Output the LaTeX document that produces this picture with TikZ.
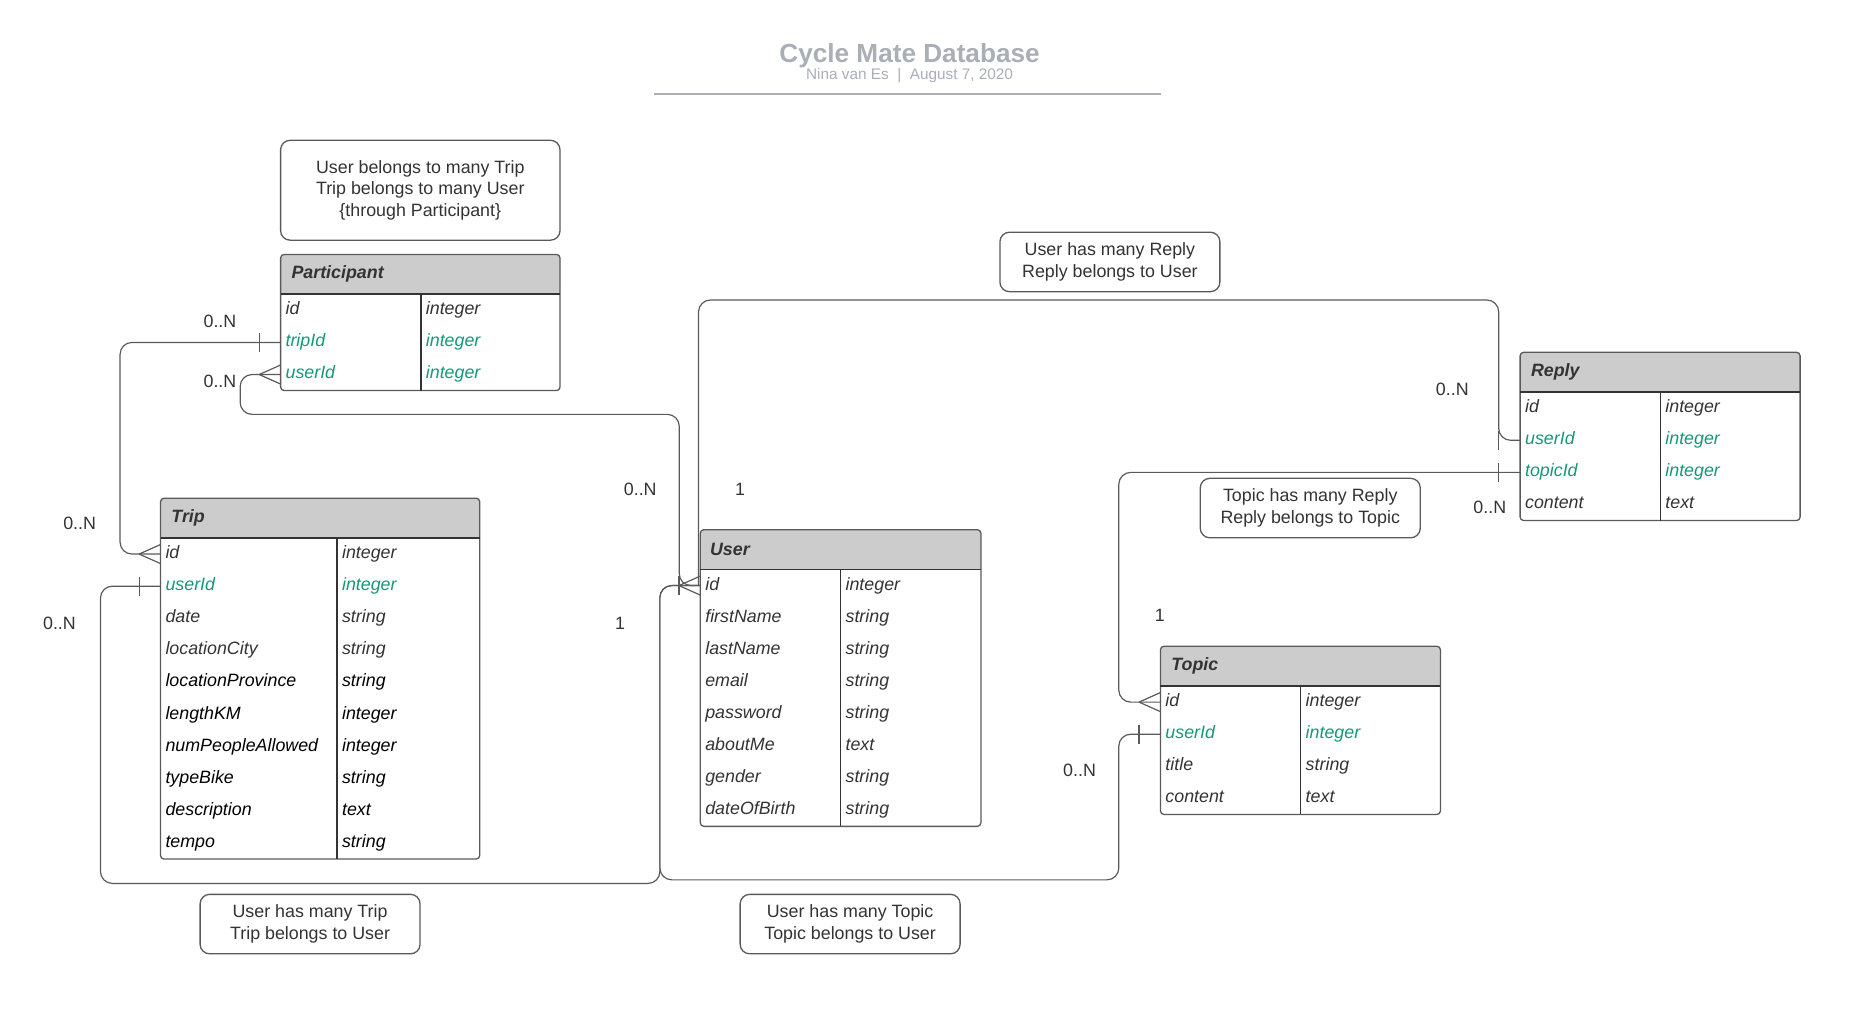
\documentclass[tikz,border=0pt]{standalone}
\usepackage{fontspec}
\setmainfont{Liberation Sans}
\definecolor{ink}{HTML}{333333}
\definecolor{fk}{HTML}{16977A}
\definecolor{headfill}{HTML}{CCCCCC}
\definecolor{edge}{HTML}{5A5A5A}
\definecolor{titlegray}{HTML}{A9AEB7}
\newcommand\bodyfont{\fontsize{15}{18}\selectfont}
\tikzset{
  field/.style={anchor=west, inner xsep=4pt, inner ysep=0pt, text width=#1pt,
    align=left, minimum height=27pt, text height=11pt, text depth=3.5pt,
    font=\bodyfont\itshape},
  headtext/.style={anchor=west, inner xsep=4pt, text=ink, font=\bodyfont\bfseries\itshape},
  tableline/.style={draw=edge, line width=1.1pt},
  headline/.style={draw=ink, line width=1.4pt},
  conn/.style={draw=edge, line width=1pt, rounded corners=10pt},
  symbol/.style={color=edge, line width=1pt},
  note/.style={draw=edge, line width=1.1pt, rounded corners=8pt, align=center,
    text=ink, font=\bodyfont, minimum width=185pt, minimum height=50pt},
  card/.style={text=ink, font=\bodyfont},
  many/.pic={\draw (-18,0) -- (0,-8) (-18,0) -- (0,8);},
  one/.pic={\draw (-18,-8) -- (-18,8);}
}
\begin{document}
\begin{tikzpicture}[x=1pt, y=-1pt]
  \useasboundingbox (0,0) rectangle (1562.7,854.5);
  % Title
  \node[font=\fontsize{22}{26}\selectfont\bfseries, text=titlegray] (title) at (765,47.2) {Cycle Mate Database};
  \node[font=\fontsize{12.9}{15}\selectfont, text=titlegray] (subtitle) at (765,63.5) {Nina van Es\ \ |\ \ August 7, 2020};
  \draw[titlegray, line width=1.5pt] (550,79) -- (976.5,79);

  % Participant
  \fill[headfill, rounded corners=3pt] (236,214) rectangle (471,247.5);
  \fill[headfill] (236,240) rectangle (471,247.5);
  \node[headtext] (participant) at (241,230.75) {Participant};
  \foreach \fld/\typ/\col [count=\i] in {id/integer/ink, tripId/integer/fk, userId/integer/fk} {
    \node[field=110, text=\col] (participant-\fld) at (236,{247.5+27*\i-13.5}) {\fld};
    \node[field=109, text=\col] (participant-\fld-type) at (354,{247.5+27*\i-13.5}) {\typ};
  }
  \draw[tableline, rounded corners=3pt] (236,214) rectangle (471,328.5);
  \draw[headline] (236,247.5) -- (471,247.5);
  \draw[headline, line width=1.1pt] (354,247.5) -- (354,328.5);

  % Trip
  \fill[headfill, rounded corners=3pt] (135,419) rectangle (403.5,452.5);
  \fill[headfill] (135,445) rectangle (403.5,452.5);
  \node[headtext] (trip) at (140,435.75) {Trip};
  \foreach \fld/\typ/\col [count=\i] in {id/integer/ink, userId/integer/fk, date/string/ink,
      locationCity/string/ink, locationProvince/string/black, lengthKM/integer/black,
      numPeopleAllowed/integer/black, typeBike/string/black, description/text/black,
      tempo/string/black} {
    \node[field=140, text=\col] (trip-\fld) at (135,{452.5+27*\i-13.5}) {\fld};
    \node[field=112, text=\col] (trip-\fld-type) at (283.5,{452.5+27*\i-13.5}) {\typ};
  }
  \draw[tableline, rounded corners=3pt] (135,419) rectangle (403.5,722.5);
  \draw[headline] (135,452.5) -- (403.5,452.5);
  \draw[headline, line width=1.1pt] (283.5,452.5) -- (283.5,722.5);

  % User
  \fill[headfill, rounded corners=3pt] (589,445.5) rectangle (825,479);
  \fill[headfill] (589,472) rectangle (825,479);
  \node[headtext] (user) at (593,462.25) {User};
  \foreach \fld/\typ [count=\i] in {id/integer, firstName/string, lastName/string,
      email/string, password/string, aboutMe/text, gender/string, dateOfBirth/string} {
    \node[field=110, text=ink] (user-\fld) at (589,{479+27*\i-13.5}) {\fld};
    \node[field=110, text=ink] (user-\fld-type) at (707,{479+27*\i-13.5}) {\typ};
  }
  \draw[tableline, rounded corners=3pt] (589,445.5) rectangle (825,695);
  \draw[headline] (589,479) -- (825,479);
  \draw[headline, line width=1.1pt] (707,479) -- (707,695);

  % Reply
  \fill[headfill, rounded corners=3pt] (1278.5,296.3) rectangle (1514,329.8);
  \fill[headfill] (1278.5,322) rectangle (1514,329.8);
  \node[headtext] (reply) at (1283.5,313) {Reply};
  \foreach \fld/\typ/\col [count=\i] in {id/integer/ink, userId/integer/fk,
      topicId/integer/fk, content/text/ink} {
    \node[field=110, text=\col] (reply-\fld) at (1278.5,{329.8+27*\i-13.5}) {\fld};
    \node[field=109, text=\col] (reply-\fld-type) at (1396.5,{329.8+27*\i-13.5}) {\typ};
  }
  \draw[tableline, rounded corners=3pt] (1278.5,296.3) rectangle (1514,437.8);
  \draw[headline] (1278.5,329.8) -- (1514,329.8);
  \draw[headline, line width=1.1pt] (1396.5,329.8) -- (1396.5,437.8);

  % Topic
  \fill[headfill, rounded corners=3pt] (976,543.5) rectangle (1211.5,577);
  \fill[headfill] (976,570) rectangle (1211.5,577);
  \node[headtext] (topic) at (981,560.25) {Topic};
  \foreach \fld/\typ/\col [count=\i] in {id/integer/ink, userId/integer/fk,
      title/string/ink, content/text/ink} {
    \node[field=110, text=\col] (topic-\fld) at (976,{577+27*\i-13.5}) {\fld};
    \node[field=109, text=\col] (topic-\fld-type) at (1094,{577+27*\i-13.5}) {\typ};
  }
  \draw[tableline, rounded corners=3pt] (976,543.5) rectangle (1211.5,685);
  \draw[headline] (976,577) -- (1211.5,577);
  \draw[headline, line width=1.1pt] (1094,577) -- (1094,685);

  % Notes
  \node[note, minimum width=235pt, minimum height=84pt] (note-participant) at (353.5,160)
    {User belongs to many Trip\\Trip belongs to many User\\\{through Participant\}};
  \node[note] (note-reply) at (933.5,220.3) {User has many Reply\\Reply belongs to User};
  \node[note] (note-topicreply) at (1102,427.3) {Topic has many Reply\\Reply belongs to Topic};
  \node[note] (note-trip) at (260.8,777.2) {User has many Trip\\Trip belongs to User};
  \node[note] (note-topic) at (715,777.2) {User has many Topic\\Topic belongs to User};

  % Connectors
  \draw[conn] (participant-tripId.west) -| ([xshift=-34pt]trip-id.west) -- (trip-id.west);
  \draw[conn] (participant-userId.west) -- ++(-34,0) -- ++(0,33.5)
    -| ([xshift=-17.7pt]user-id.west) -- (user-id.west);
  \draw[conn] (trip-userId.west) -- ++(-50.5,0) -- ++(0,250)
    -| ([xshift=-34pt]user-id.west) -- (user-id.west);
  \draw[conn] (topic-userId.west) -- ++(-35,0) -- ++(0,122.5)
    -| ([xshift=-34pt]user-id.west) -- (user-id.west);
  \draw[conn] (reply-userId.west) -- ++(-18,0) -- ++(0,-118)
    -| ([xshift=-1.5pt]user-id.west);
  \draw[conn] (topic-id.west) -- ++(-35,0) |- (reply-topicId.west);

  % Ends
  \foreach \at in {trip-id, participant-userId, user-id, topic-id}
    \pic[symbol] at (\at.west) {many};
  \foreach \at in {participant-tripId, trip-userId, user-id, reply-userId, reply-topicId, topic-userId}
    \pic[symbol] at (\at.west) {one};

  % Cardinalities
  \node[card] (c-participant-trip) at (185,270.5) {0..N};
  \node[card] (c-participant-user) at (185,320.5) {0..N};
  \node[card] (c-trip-participant) at (67,440) {0..N};
  \node[card] (c-trip-user) at (50,524.5) {0..N};
  \node[card] (c-user-participant) at (538.5,411.5) {0..N};
  \node[card] (c-user-trip) at (521.5,524.5) {1};
  \node[card] (c-user-reply) at (622.5,411.5) {1};
  \node[card] (c-reply-user) at (1221.5,327.5) {0..N};
  \node[card] (c-reply-topic) at (1253,427) {0..N};
  \node[card] (c-topic-reply) at (975.5,517.5) {1};
  \node[card] (c-topic-user) at (908,647.5) {0..N};
\end{tikzpicture}
\end{document}
